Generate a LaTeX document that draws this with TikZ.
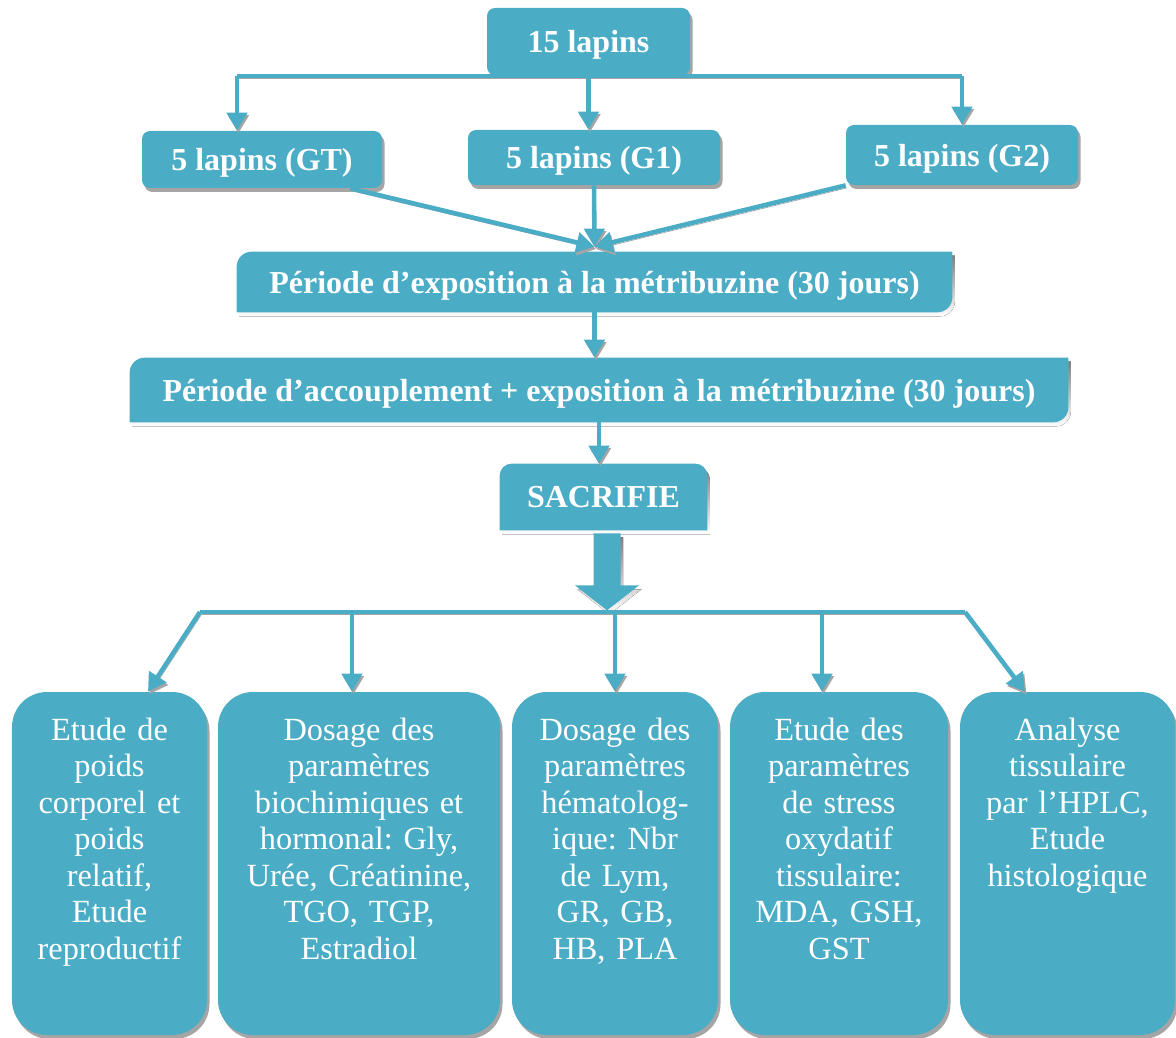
\documentclass[tikz,border=0pt]{standalone}
\usepackage{fontspec}
\setmainfont{Liberation Serif}
\usepackage{tikz}
\usetikzlibrary{arrows.meta,shadows,backgrounds}

\definecolor{aqua}{HTML}{4BACC6}
\definecolor{shade}{HTML}{A5A5A5}

% outlines of the boxes that are not plain rounded rectangles
\newcommand{\diagpath}[1]{(#1.south west) -- ([yshift=-0.3cm]#1.north west) arc[start angle=180,end angle=90,radius=0.3cm] -- (#1.north east) -- ([yshift=0.3cm]#1.south east) arc[start angle=0,end angle=-90,radius=0.3cm] -- cycle}
\newcommand{\tabpath}[1]{(#1.south west) -- ([yshift=-0.24cm]#1.north west) arc[start angle=180,end angle=90,radius=0.24cm] -- ([xshift=-0.24cm]#1.north east) arc[start angle=90,end angle=0,radius=0.24cm] -- (#1.south east) -- cycle}
\newcommand{\bigarrowpath}[1]{([xshift=-0.2cm,yshift=-0.06cm]#1.south) -- ++(0,-1.04) -- ++(-0.37,0) -- ++(0.64,-0.5) -- ++(0.64,0.5) -- ++(-0.37,0) -- ++(0,1.04) -- cycle}

\begin{document}
\frenchspacing
\begin{tikzpicture}
            \tikzstyle{box}=[fill=aqua, text=white, inner sep=0pt, text depth=0pt, rounded corners=0.16cm, font=\bfseries\fontsize{18.2}{21}\selectfont, drop shadow={shadow xshift=0.05cm, shadow yshift=-0.08cm, fill=shade, opacity=1}]
            \tikzstyle{band}=[text=white, inner sep=0pt, text depth=0pt, font=\bfseries\fontsize{18.2}{21}\selectfont]
            \tikzstyle{leaf}=[fill=aqua, text=white, align=center, inner sep=0.1cm, rounded corners=0.7cm, text height=0.86cm, text depth=5.8cm, font=\fontsize{18.4}{20.8}\selectfont, drop shadow={shadow xshift=0.05cm, shadow yshift=-0.08cm, fill=shade, opacity=1}]
            \tikzstyle{conn}=[draw=aqua, line width=2.6pt, preaction={draw=shade, transform canvas={xshift=0.03cm, yshift=-0.05cm}}]
            \tikzstyle{arr}=[-{Triangle[width=0.4cm,length=0.36cm]}]
            \useasboundingbox (0,0) rectangle (23.52,-20.76);

            % groups
            \node[box, minimum width=4.06cm, minimum height=1.34cm] (top) at (11.77,-0.83) {15 lapins};
            \node[box, minimum width=4.8cm, minimum height=1.14cm] (gt) at (5.24,-3.19) {5 lapins (GT)};
            \node[box, minimum width=5.04cm, minimum height=1.1cm] (g1) at (11.88,-3.15) {5 lapins (G1)};
            \node[box, minimum width=4.64cm, minimum height=1.2cm] (g2) at (19.24,-3.10) {5 lapins (G2)};

            % periods
            \node[band, minimum width=14.3cm, minimum height=1.2cm] (expo) at (11.89,-5.64) {Période d’exposition à la métribuzine (30 jours)};
            \node[band, minimum width=18.76cm, minimum height=1.28cm] (accoup) at (11.98,-7.80) {Période d’accouplement + exposition à la métribuzine (30 jours)};
            \node[band, minimum width=4.14cm, minimum height=1.32cm] (sac) at (12.07,-9.94) {SACRIFIE};

            \begin{scope}[on background layer]
                \fill[shade, transform canvas={xshift=0.05cm, yshift=-0.08cm}] \diagpath{expo};
                \fill[shade, transform canvas={xshift=0.05cm, yshift=-0.08cm}] \diagpath{accoup};
                \fill[shade, transform canvas={xshift=0.05cm, yshift=-0.08cm}] \tabpath{sac};
                \fill[shade, transform canvas={xshift=0.05cm, yshift=-0.08cm}] \bigarrowpath{sac};
                \fill[aqua] \diagpath{expo};
                \fill[aqua] \diagpath{accoup};
                \fill[aqua] \tabpath{sac};
                \fill[aqua] \bigarrowpath{sac};
            \end{scope}

            % analyses
            \node[leaf, text width=3.7cm] (b1) at (2.19,-17.27) {Etude de\\poids\\corporel et\\poids\\relatif,\\Etude\\reproductif};
            \node[leaf, text width=5.44cm] (b2) at (7.18,-17.27) {Dosage des\\paramètres\\biochimiques et\\hormonal: Gly,\\Urée, Créatinine,\\TGO, TGP,\\Estradiol};
            \node[leaf, text width=3.92cm] (b3) at (12.30,-17.27) {Dosage des\\paramètres\\hématolog-\\ique: Nbr\\de Lym,\\GR, GB,\\HB, PLA};
            \node[leaf, text width=4.16cm] (b4) at (16.78,-17.27) {Etude des\\paramètres\\de stress\\oxydatif\\tissulaire:\\MDA, GSH,\\GST};
            \node[leaf, text width=4.1cm] (b5) at (21.35,-17.27) {Analyse\\tissulaire\\par l’HPLC,\\Etude\\histologique};

            % split into groups
            \coordinate (barL) at (4.74,-1.52);
            \coordinate (barR) at (19.24,-1.52);
            \draw[conn] (barL) -- (barR);
            \draw[conn,arr] (barL) -- (barL |- gt.north);
            \draw[conn,arr] (top.south) -- (top.south |- g1.north);
            \draw[conn,arr] (barR) -- (barR |- g2.north);

            % groups to exposure
            \coordinate (meet) at ([yshift=0.1cm]expo.north);
            \draw[conn,arr] ([xshift=-0.64cm]gt.south east) -- (meet);
            \draw[conn,arr] (g1.south) -- (meet);
            \draw[conn,arr] (g2.south west) -- (meet);
            \draw[conn,arr] (expo.south) -- (expo.south |- accoup.north);
            \draw[conn,arr] (accoup.south) -- (accoup.south |- sac.north);

            % dispatch to analyses
            \coordinate (busL) at (4.0,-12.24);
            \coordinate (busR) at (19.3,-12.24);
            \draw[conn] (busL) -- (busR);
            \draw[conn,arr] (busL) -- ([xshift=0.77cm]b1.north);
            \draw[conn,arr] ([xshift=-0.14cm]b2.north |- busL) -- ([xshift=-0.14cm]b2.north);
            \draw[conn,arr] (b3.north |- busL) -- (b3.north);
            \draw[conn,arr] ([xshift=-0.34cm]b4.north |- busL) -- ([xshift=-0.34cm]b4.north);
            \draw[conn,arr] (busR) -- ([xshift=-0.85cm]b5.north);
        \end{tikzpicture}
\end{document}
